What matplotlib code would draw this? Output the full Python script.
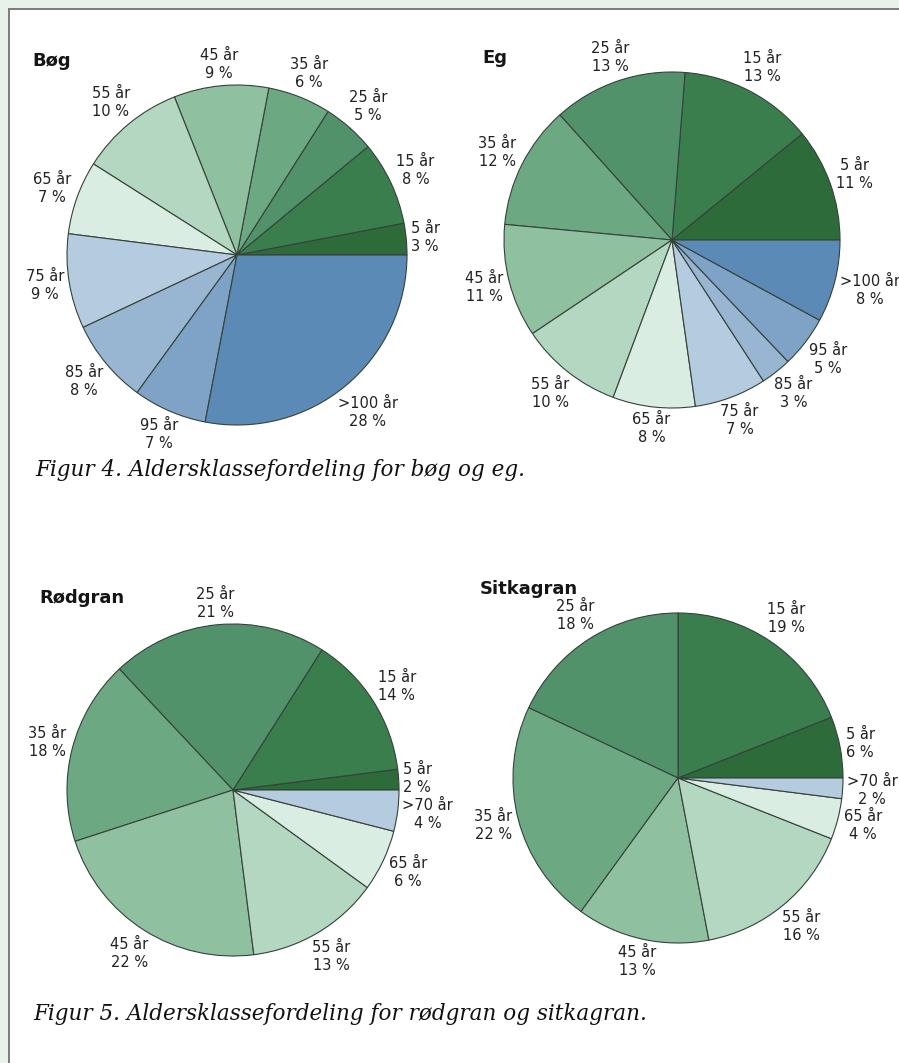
import matplotlib
matplotlib.use("Agg")
import matplotlib.pyplot as plt
from matplotlib.patches import Rectangle
import numpy as np

W, H = 899, 1063

# Aldersklasser og fordelinger (%)
loev_labels = ["5 år", "15 år", "25 år", "35 år", "45 år", "55 år",
               "65 år", "75 år", "85 år", "95 år", ">100 år"]
boeg_values = [3, 8, 5, 6, 9, 10, 7, 9, 8, 7, 28]
eg_values = [11, 13, 13, 12, 11, 10, 8, 7, 3, 5, 8]

gran_labels = ["5 år", "15 år", "25 år", "35 år", "45 år", "55 år", "65 år", ">70 år"]
roedgran_values = [2, 14, 21, 18, 22, 13, 6, 4]
sitkagran_values = [6, 19, 18, 22, 13, 16, 4, 2]

# colours: dark green for young stands -> pale -> blue for old
loev_colors = ["#2d6b3a", "#3a7e4d", "#51926a", "#6ca982", "#8fc09f", "#b3d7c1",
               "#d9ede2", "#b5cce0", "#98b5d2", "#7fa3c6", "#5b8ab7"]
gran_colors = loev_colors[:7] + ["#b5cce0"]

fig = plt.figure(figsize=(W / 100, H / 100), dpi=100)
fig.patch.set_facecolor("#e9f2ea")
ax = fig.add_axes([0, 0, 1, 1])
ax.set_xlim(0, W)
ax.set_ylim(0, H)
ax.set_aspect("equal")
ax.axis("off")

# white panel with grey frame
ax.add_patch(Rectangle((9, -20), 900, H - 9 + 20, facecolor="white",
                       edgecolor="#7a7a7a", linewidth=1.4, zorder=0))

renderer = fig.canvas.get_renderer()


def draw_pie(values, labels, colors, cx, cy, r, title, tx, ty):
    # cy, ty given in pixels from the top
    cy = H - cy
    wedges, _ = ax.pie(values, colors=colors, startangle=0, counterclock=True,
                       center=(cx, cy), radius=r, frame=True,
                       wedgeprops=dict(edgecolor="#35423a", linewidth=0.8))
    for w, lab, v in zip(wedges, labels, values):
        ang = np.deg2rad((w.theta1 + w.theta2) / 2)
        ux, uy = np.cos(ang), np.sin(ang)
        t = ax.text(0, 0, f"{lab}\n{v} %", ha="center", va="center",
                    fontsize=10.5, linespacing=1.25, color="#222222",
                    family="DejaVu Sans")
        bb = t.get_window_extent(renderer)
        d = r + 3 + bb.width / 2 * abs(ux) + bb.height / 2 * abs(uy)
        t.set_position((cx + d * ux, cy + d * uy))
    ax.text(tx, H - ty, title, ha="left", va="center", fontsize=13,
            fontweight="bold", family="DejaVu Sans", color="#151515")


draw_pie(boeg_values, loev_labels, loev_colors, 237, 255, 170, "Bøg", 32, 61)
draw_pie(eg_values, loev_labels, loev_colors, 672, 240, 168, "Eg", 482, 58)
draw_pie(roedgran_values, gran_labels, gran_colors, 233, 790, 166, "Rødgran", 39, 598)
draw_pie(sitkagran_values, gran_labels, gran_colors, 678, 778, 165, "Sitkagran", 480, 589)

ax.set_xlim(0, W)
ax.set_ylim(0, H)

ax.text(35, H - 470, "Figur 4. Aldersklassefordeling for bøg og eg.",
        ha="left", va="center", fontsize=15.5, style="italic",
        family="DejaVu Serif", color="#111111")
ax.text(33, H - 1014, "Figur 5. Aldersklassefordeling for rødgran og sitkagran.",
        ha="left", va="center", fontsize=15.5, style="italic",
        family="DejaVu Serif", color="#111111")

fig.savefig("out.png", dpi=100, facecolor=fig.get_facecolor())
